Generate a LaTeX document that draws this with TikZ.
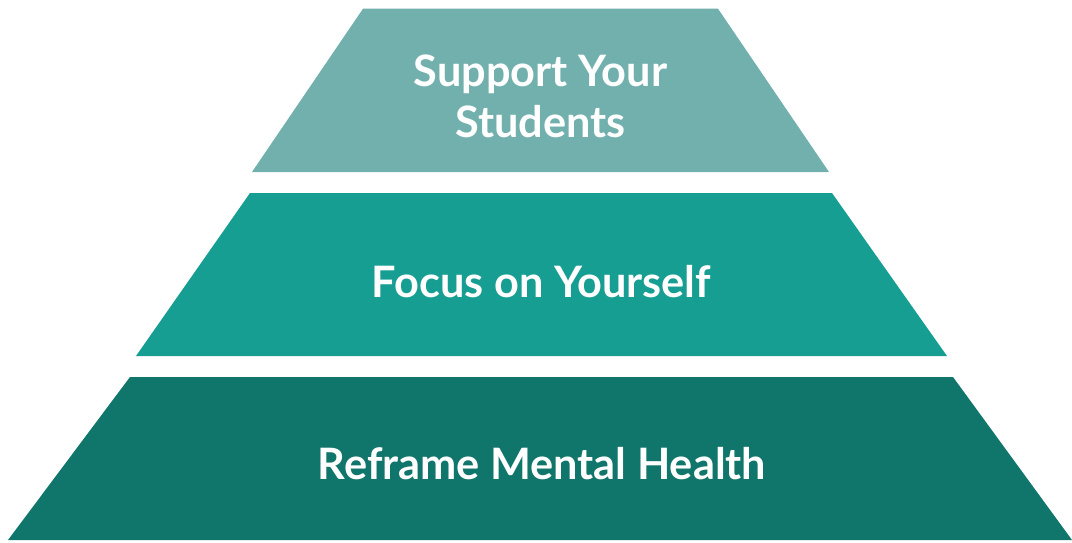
\documentclass[tikz,border=0pt]{standalone}
\usepackage{fontspec}
\newfontfamily\latofont{Lato}
\definecolor{tierTop}{HTML}{72B0AE}
\definecolor{tierMid}{HTML}{179E92}
\definecolor{tierLow}{HTML}{10756B}
\begin{document}
\begin{tikzpicture}[x=1pt,y=-1pt,
  tierlabel/.style={text=white,anchor=base,align=center,inner sep=0pt,
    font=\latofont\bfseries\fontsize{43.3}{51.5}\selectfont}]
  \useasboundingbox (0,0) rectangle (1072,542);
  % three stacked trapezoids
  \fill[tierTop] (363,8.7) -- (718,8.7) -- (829,172) -- (252,172) -- cycle;
  \fill[tierMid] (250,193) -- (832,193) -- (947,356) -- (136,356) -- cycle;
  \fill[tierLow] (130,377) -- (953,377) -- (1072,540) -- (8,540) -- cycle;
  % labels (base anchor sits on the last line of a two-line label)
  \node[tierlabel] (top) at (540.5,137.5) {Support Your\\Students};
  \node[tierlabel] (mid) at (541.5,297.7) {Focus on Yourself};
  \node[tierlabel] (low) at (542,479) {Reframe Mental Health};
\end{tikzpicture}
\end{document}
